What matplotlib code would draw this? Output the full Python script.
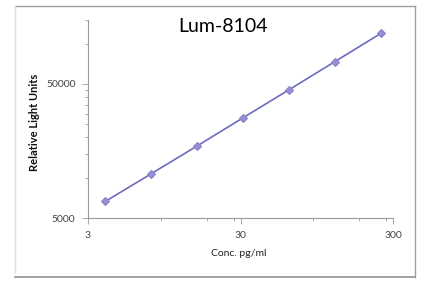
import matplotlib
matplotlib.use("Agg")
import matplotlib.pyplot as plt
from matplotlib.lines import Line2D
from matplotlib.ticker import FixedLocator, NullFormatter, FixedFormatter

conc = [3.9, 7.8, 15.6, 31.25, 62.5, 125, 250]
rlu = [6650, 10700, 17250, 28000, 45300, 73500, 119300]
xticks = [3, 30, 300]
xticklabels = ["3", "30", "300"]
yticks = [5000, 50000]
yticklabels = ["5000", "50000"]
x_minor = [9, 18, 27, 90, 180, 270]
y_minor = [10000, 15000, 20000, 25000, 30000, 35000, 40000, 45000, 100000, 150000]

W, H = 430, 289
fig = plt.figure(figsize=(W / 100, H / 100), dpi=100)
ax = fig.add_axes([88 / W, 1 - 218 / H, (393 - 88) / W, (218 - 20) / H])
ax.set_xscale("log")
ax.set_yscale("log")
ax.set_xlim(3, 300)
ax.set_ylim(5000, 150000)

ax.plot(conc, rlu, color="#6c6cbe", lw=1.2, marker="D", ms=4,
        mfc="#9890d6", mec="#8a80cc", mew=0.8)

ax.xaxis.set_major_locator(FixedLocator(xticks))
ax.xaxis.set_major_formatter(FixedFormatter(xticklabels))
ax.xaxis.set_minor_locator(FixedLocator(x_minor))
ax.xaxis.set_minor_formatter(NullFormatter())
ax.yaxis.set_major_locator(FixedLocator(yticks))
ax.yaxis.set_major_formatter(FixedFormatter(yticklabels))
ax.yaxis.set_minor_locator(FixedLocator(y_minor))
ax.yaxis.set_minor_formatter(NullFormatter())

for s in ["top", "right"]:
    ax.spines[s].set_visible(False)
for s in ["left", "bottom"]:
    ax.spines[s].set_color("#999999")
    ax.spines[s].set_linewidth(0.8)

ax.tick_params(which="both", direction="out", color="#999999", width=0.6,
               labelsize=7.5, labelcolor="#444444")
ax.tick_params(which="major", length=4, pad=5)
ax.tick_params(which="minor", length=2.5)

fam = ["Lato", "DejaVu Sans"]
for lab in ax.get_xticklabels() + ax.get_yticklabels():
    lab.set_fontfamily(fam)

fig.text(223 / W, 1 - 27 / H, "Lum-8104", ha="center", va="center",
         fontsize=14, family=fam, color="#000000")
fig.text(35 / W, 1 - 122 / H, "Relative Light Units", ha="center", va="center",
         rotation=90, fontsize=8, fontweight="bold", family=fam, color="#111111")
fig.text(239 / W, 1 - 254 / H, "Conc. pg/ml", ha="center", va="center",
         fontsize=7.5, family=fam, color="#222222")

# outer chart border
def L(x0, y0, x1, y1, c, lw=1.0):
    fig.add_artist(Line2D([x0 / W, x1 / W], [1 - y0 / H, 1 - y1 / H],
                          color=c, lw=lw, transform=fig.transFigure))
L(15, 6, 415, 6, "#a0a0a0")
L(415, 6, 415, 277, "#a0a0a0")
L(15, 277, 415, 277, "#909090", 1.2)
L(15, 6, 15, 272, "#dddddd")

fig.savefig("out.png", dpi=100)
